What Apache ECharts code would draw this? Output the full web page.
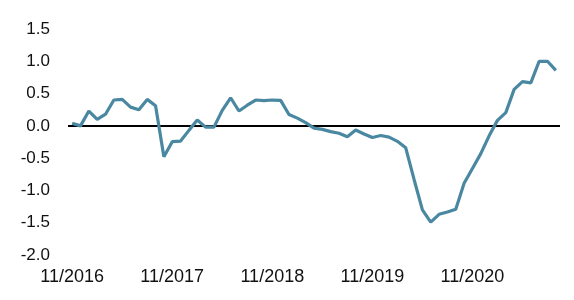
<!DOCTYPE html>
<html>
<head>
<meta charset="utf-8">
<script src="https://cdn.jsdelivr.net/npm/echarts@6/dist/echarts.min.js"></script>
<style>
html,body{margin:0;padding:0;background:#fff;}
#chart{width:574px;height:300px;}
</style>
</head>
<body>
<div id="chart"></div>
<script>
// Monthly categories 11/2016 .. 9/2021
const categories = [];
(function(){
  let m = 11, y = 2016;
  for (let k = 0; k < 59; k++) {
    categories.push(m + '/' + y);
    m++; if (m > 12) { m = 1; y++; }
  }
})();

const values = [
  0.04, 0.00, 0.23, 0.10, 0.18, 0.40, 0.41, 0.29, 0.25, 0.41,
  0.31, -0.48, -0.245, -0.235, -0.07, 0.09, -0.02, -0.02, 0.24, 0.435,
  0.23, 0.32, 0.40, 0.39, 0.40, 0.395, 0.175, 0.12, 0.05, -0.035,
  -0.055, -0.09, -0.115, -0.17, -0.065, -0.125, -0.18, -0.15, -0.175, -0.24,
  -0.34, -0.83, -1.30, -1.49, -1.37, -1.335, -1.29, -0.89, -0.66, -0.43,
  -0.155, 0.085, 0.205, 0.565, 0.685, 0.665, 1.00, 1.00, 0.86
];

const yMin = -2.0, yMax = 1.5, yInterval = 0.5;

const chart = echarts.init(document.getElementById('chart'), null, {renderer: 'canvas'});
chart.setOption({
  animation: false,
  backgroundColor: '#ffffff',
  grid: {left: 68, right: 14, top: 29, bottom: 45},
  xAxis: {
    type: 'category',
    data: categories,
    boundaryGap: true,
    axisLine: {show: false},
    axisTick: {show: false},
    splitLine: {show: false},
    axisLabel: {
      interval: 11,
      margin: 13,
      color: '#111',
      fontFamily: 'Liberation Sans, Arial, sans-serif',
      fontSize: 18
    }
  },
  yAxis: {
    type: 'value',
    min: yMin, max: yMax, interval: yInterval,
    axisLine: {show: false},
    axisTick: {show: false},
    splitLine: {show: false},
    axisLabel: {
      margin: 18,
      color: '#111',
      fontFamily: 'Liberation Sans, Arial, sans-serif',
      fontSize: 17,
      formatter: v => v.toFixed(1)
    }
  },
  series: [{
    type: 'line',
    data: values,
    symbol: 'none',
    lineStyle: {color: '#4a88a2', width: 3.2},
    z: 3,
    markLine: {
      silent: true,
      symbol: 'none',
      label: {show: false},
      lineStyle: {color: '#000', width: 2, type: 'solid'},
      data: [{yAxis: 0}],
      z: 1
    }
  }]
});
</script>
</body>
</html>
